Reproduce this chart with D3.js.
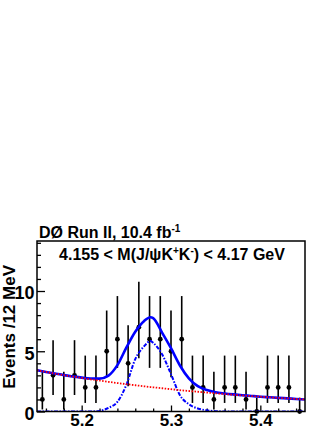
<!DOCTYPE html>
<html>
<head>
<meta charset="utf-8">
<script src="https://cdn.jsdelivr.net/npm/d3@7"></script>
<style>
body { margin: 0; background: #fff; }
svg text { font-family: "Liberation Sans", Arial, Helvetica, sans-serif; font-weight: bold; fill: #000; }
</style>
</head>
<body>
<div id="chart"></div>
<script>
// bin centres in GeV (12 MeV bins from 5.15 to 5.45)
var binMass = [5.156, 5.168, 5.180, 5.192, 5.204, 5.216, 5.228, 5.240, 5.252, 5.264, 5.276, 5.288, 5.300,
               5.312, 5.324, 5.336, 5.348, 5.360, 5.372, 5.384, 5.396, 5.408, 5.420, 5.432, 5.444];
var counts  = [1, 3, 1, 3, 2, 2, 5, 6, 4, 7, 6, 6, 5, 6, 2, 2, 1, 2, 2, 1, 0, 2, 2, 2, 0];
// poisson error bar ends
var errLow  = [0.17, 1.37, 0.17, 1.37, 0.71, 0.71, 2.84, 3.62, 2.09, 4.42, 3.62, 3.62, 2.84, 3.62,
               0.71, 0.71, 0.17, 0.71, 0.71, 0.17, 0, 0.71, 0.71, 0.71, 0];
var errHigh = [3.30, 5.92, 3.30, 5.92, 4.64, 4.64, 8.38, 9.58, 7.16, 10.77, 9.58, 9.58, 8.38, 9.58,
               4.64, 4.64, 3.30, 4.64, 4.64, 3.30, 1.15, 4.64, 4.64, 4.64, 1.15];

// fit curves
var fitMass = [5.15, 5.16, 5.17, 5.18, 5.19, 5.20, 5.21, 5.22, 5.23, 5.24, 5.25, 5.26, 5.27, 5.277, 5.28, 5.29,
               5.30, 5.31, 5.32, 5.33, 5.34, 5.35, 5.36, 5.37, 5.38, 5.39, 5.40, 5.41, 5.42, 5.43, 5.44, 5.45];
var totFit  = [3.42, 3.28, 3.15, 3.02, 2.91, 2.81, 2.74, 2.73, 2.98, 3.85, 5.30, 6.62, 7.52, 7.82, 7.75, 6.55,
               5.25, 3.82, 2.75, 2.10, 1.78, 1.60, 1.50, 1.42, 1.35, 1.29, 1.23, 1.18, 1.13, 1.09, 1.04, 1.00];
var sigFit  = [0, 0, 0, 0, 0, 0, 0, 0.05, 0.30, 0.80, 2.20, 4.35, 5.42, 5.85, 5.70, 4.75,
               3.10, 1.35, 0.60, 0.25, 0.10, 0.03, 0, 0, 0, 0, 0, 0, 0, 0, 0, 0];
var bgFit   = [3.42, 3.28, 3.15, 3.02, 2.90, 2.79, 2.67, 2.57, 2.46, 2.36, 2.27, 2.18, 2.09, 2.03, 2.01, 1.93,
               1.85, 1.77, 1.70, 1.64, 1.57, 1.51, 1.45, 1.39, 1.33, 1.28, 1.23, 1.18, 1.13, 1.09, 1.04, 1.00];

var xMajor = [5.2, 5.3, 5.4];
var xMinor = [5.16, 5.18, 5.22, 5.24, 5.26, 5.28, 5.32, 5.34, 5.36, 5.38, 5.42, 5.44];
var yMajor = [0, 5, 10];
var yMinor = [1, 2, 3, 4, 6, 7, 8, 9, 11, 12, 13, 14];

var margin = {top: 241, right: 27, bottom: 18.5, left: 37};
var width = 332 - margin.left - margin.right;
var height = 430 - margin.top - margin.bottom;

var xScale = d3.scaleLinear().domain([5.15, 5.45]).range([0, width]);
var yScale = d3.scaleLinear().domain([0, 14.15]).range([height, 0]);

var svg = d3.select("#chart").append("svg")
    .attr("width", 332)
    .attr("height", 430)
  .append("g")
    .attr("transform", "translate(" + margin.left + "," + margin.top + ")");

svg.append("clipPath").attr("id", "plotclip")
  .append("rect").attr("x", 0).attr("y", 0).attr("width", width).attr("height", height);

// axes, ticks point inwards
function styleAxis(g, size) {
    g.select(".domain").remove();
    g.selectAll("line").attr("stroke", "#000").attr("stroke-width", 1.3);
    g.selectAll("text").style("font-size", size + "px").attr("fill", "#000");
}

svg.append("g")
    .attr("transform", "translate(0," + height + ")")
    .call(d3.axisBottom(xScale).tickValues(xMinor).tickSize(-3).tickFormat(""))
    .call(styleAxis, 17);
svg.append("g")
    .attr("transform", "translate(0," + height + ")")
    .call(d3.axisBottom(xScale).tickValues(xMajor).tickSize(-6).tickPadding(2.5).tickFormat(d3.format(".1f")))
    .call(styleAxis, 17);

svg.append("g")
    .call(d3.axisLeft(yScale).tickValues(yMinor).tickSize(-4).tickFormat(""))
    .call(styleAxis, 18);
var yAxis = svg.append("g")
    .call(d3.axisLeft(yScale).tickValues(yMajor).tickSize(-8).tickPadding(2.5))
    .call(styleAxis, 18);
yAxis.selectAll("text").attr("dy", "0.44em");

// data points with error bars
svg.selectAll(".errbar")
    .data(counts)
  .enter().append("line")
    .attr("class", "errbar")
    .attr("x1", function(d, i) { return xScale(binMass[i]); })
    .attr("x2", function(d, i) { return xScale(binMass[i]); })
    .attr("y1", function(d, i) { return yScale(errLow[i]); })
    .attr("y2", function(d, i) { return yScale(errHigh[i]); })
    .attr("stroke", "#000")
    .attr("stroke-width", 1.6);

svg.selectAll(".dot")
    .data(counts)
  .enter().append("circle")
    .attr("class", "dot")
    .attr("cx", function(d, i) { return xScale(binMass[i]); })
    .attr("cy", function(d) { return yScale(d); })
    .attr("r", 2.4)
    .attr("fill", "#000");

// fit curves
var line = d3.line()
    .x(function(d) { return xScale(d.m); })
    .y(function(d) { return yScale(d.v); })
    .curve(d3.curveMonotoneX);

function curveData(vals) {
    return fitMass.map(function(m, i) { return {m: m, v: vals[i]}; });
}

var curves = svg.append("g").attr("clip-path", "url(#plotclip)");

curves.append("path")
    .datum(curveData(totFit))
    .attr("fill", "none")
    .attr("stroke", "#0000ff")
    .attr("stroke-width", 2.6)
    .attr("d", line);

curves.append("path")
    .datum(curveData(sigFit))
    .attr("fill", "none")
    .attr("stroke", "#0000ff")
    .attr("stroke-width", 2)
    .attr("stroke-dasharray", "4,1.5,1.5,1.5")
    .attr("d", line);

curves.append("path")
    .datum(curveData(bgFit))
    .attr("fill", "none")
    .attr("stroke", "#ff0000")
    .attr("stroke-width", 1.8)
    .attr("stroke-dasharray", "1.5,1.5")
    .attr("d", line);

// frame
svg.append("rect")
    .attr("x", 0).attr("y", 0)
    .attr("width", width).attr("height", height)
    .attr("fill", "none")
    .attr("stroke", "#000")
    .attr("stroke-width", 1.5);

// labels
svg.append("text")
    .attr("transform", "translate(-22.5,24) rotate(-90)")
    .attr("text-anchor", "end")
    .style("font-size", "17px")
    .text("Events /12 MeV");

var title = svg.append("text")
    .attr("x", 2)
    .attr("y", -3.5)
    .style("font-size", "16px");
title.append("tspan").text("D\u00d8 Run II, 10.4 fb");
title.append("tspan").attr("dy", -6).style("font-size", "10px").text("-1");

var sub = svg.append("text")
    .attr("x", 135)
    .attr("y", 19)
    .attr("text-anchor", "middle")
    .style("font-size", "16px");
sub.append("tspan").text("4.155 < M(J/\u03c8K");
sub.append("tspan").attr("dy", -6).style("font-size", "10px").text("+");
sub.append("tspan").attr("dy", 6).text("K");
sub.append("tspan").attr("dy", -6).style("font-size", "10px").text("-");
sub.append("tspan").attr("dy", 6).text(") < 4.17 GeV");
</script>
</body>
</html>
